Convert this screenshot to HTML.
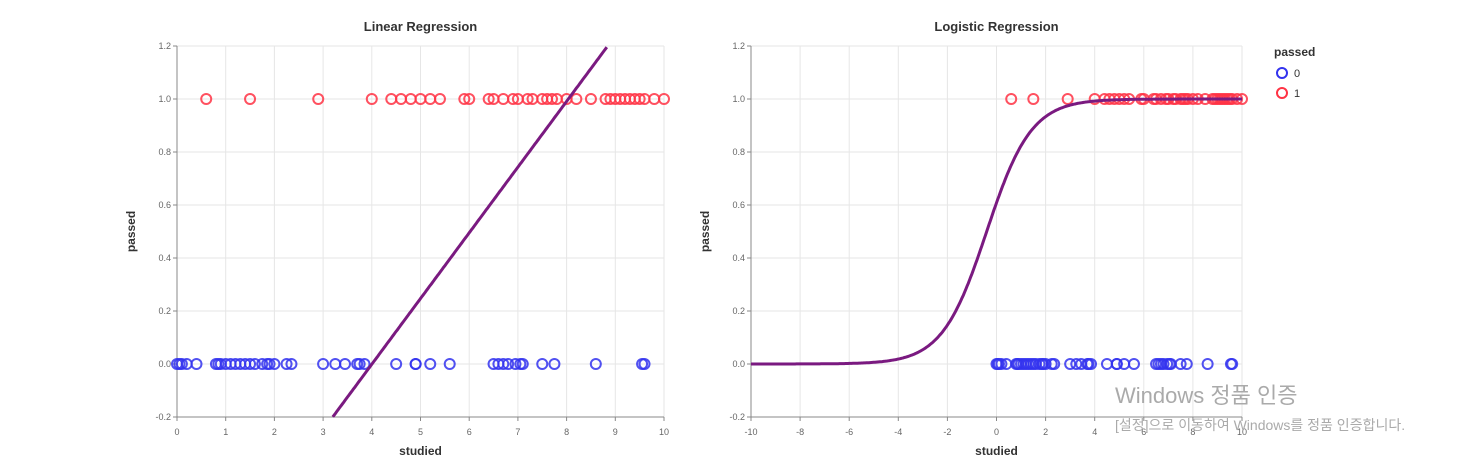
<!DOCTYPE html>
<html><head><meta charset="utf-8"><style>
body{margin:0;background:#fff;}
svg{display:block;font-family:"Liberation Sans","Noto Sans CJK KR",sans-serif;}
</style></head><body>
<svg id="c" width="1482" height="467"></svg>
<script>
const redX=[0.6,1.5,2.9,4.0,4.4,4.6,4.8,5.0,5.2,5.4,5.9,6.0,6.4,6.5,6.7,6.9,7.0,7.2,7.3,7.5,7.6,7.7,7.8,8.0,8.2,8.5,8.8,8.9,9.0,9.1,9.2,9.3,9.4,9.5,9.6,9.8,10.0];
const blueX=[0.0,0.05,0.1,0.2,0.4,0.8,0.85,0.9,1.0,1.1,1.2,1.3,1.4,1.5,1.6,1.75,1.85,1.9,2.0,2.25,2.35,3.0,3.25,3.45,3.7,3.75,3.85,4.5,4.9,4.9,5.2,5.6,6.5,6.6,6.7,6.8,6.95,7.05,7.1,7.5,7.75,8.6,9.55,9.6];
const yTicks=[-0.2,0,0.2,0.4,0.6,0.8,1.0,1.2];
const xTicksL=[0,1,2,3,4,5,6,7,8,9,10];
const xTicksR=[-10,-8,-6,-4,-2,0,2,4,6,8,10];
const linSlope=0.248, linIntercept=-0.993;
const logK=1.1, logX0=-0.4;

const svg=document.getElementById('c');
const NS='http://www.w3.org/2000/svg';
function mk(tag,attrs,parent){const e=document.createElementNS(NS,tag);for(const k in attrs)e.setAttribute(k,attrs[k]);(parent||svg).appendChild(e);return e;}
const Y0=46,Y1=417;
function sy(v){return Y1-(v+0.2)/1.4*(Y1-Y0);}

function panel(name,x0,x1,dmin,dmax,ticks,title,curveFn){
  const g=mk('g',{});
  
  
  const sx=v=>x0+(v-dmin)/(dmax-dmin)*(x1-x0);
  ticks.forEach(t=>{const l=mk('line',{x1:sx(t),x2:sx(t),y1:Y0,y2:Y1,stroke:'#e6e6e6'},g);
    
    const tx=mk('text',{x:sx(t),y:Y1+18,'text-anchor':'middle','font-size':9,fill:'#666'},g);tx.textContent=t;
    
    mk('line',{x1:sx(t),x2:sx(t),y1:Y1,y2:Y1+4,stroke:'#888'},g);});
  yTicks.forEach(t=>{const l=mk('line',{x1:x0,x2:x1,y1:sy(t),y2:sy(t),stroke:'#e6e6e6'},g);
    
    const tx=mk('text',{x:x0-6,y:sy(t)+3,'text-anchor':'end','font-size':9,fill:'#666'},g);tx.textContent=t.toFixed(1);
    
    mk('line',{x1:x0-4,x2:x0,y1:sy(t),y2:sy(t),stroke:'#888'},g);});
  mk('line',{x1:x0,x2:x0,y1:Y0,y2:Y1,stroke:'#888'},g);
  mk('line',{x1:x0,x2:x1,y1:Y1,y2:Y1,stroke:'#888'},g);
  const tt=mk('text',{x:(x0+x1)/2,y:31,'text-anchor':'middle','font-size':13,'font-weight':'bold',fill:'#333'},g);tt.textContent=title;
  
  const xl=mk('text',{x:(x0+x1)/2,y:455,'text-anchor':'middle','font-size':12,'font-weight':'bold',fill:'#333'},g);xl.textContent='studied';
  
  const yl=mk('text',{x:0,y:0,'text-anchor':'middle','font-size':12,'font-weight':'bold',fill:'#333',transform:`translate(${x0-42},${(Y0+Y1)/2}) rotate(-90)`},g);yl.textContent='passed';
  
  blueX.forEach(v=>{const c=mk('circle',{cx:sx(v),cy:sy(0),r:5,fill:'none',stroke:'#3333ee','stroke-width':2,opacity:0.85},g);
    });
  redX.forEach(v=>{const c=mk('circle',{cx:sx(v),cy:sy(1),r:5,fill:'none',stroke:'#ff3344','stroke-width':2,opacity:0.85},g);
    });
  let d='';
  for(let i=0;i<=400;i++){const x=dmin+(dmax-dmin)*i/400;let y=curveFn(x);if(y<-0.2||y>1.2)continue;d+=(d?'L':'M')+sx(x).toFixed(1)+','+sy(y).toFixed(1);}
  const p=mk('path',{d:d,fill:'none',stroke:'#7a1a80','stroke-width':3},g);
  
}
panel('linear-regression-chart',177,664,0,10,xTicksL,'Linear Regression',x=>linSlope*x+linIntercept);
panel('logistic-regression-chart',751,1242,-10,10,xTicksR,'Logistic Regression',x=>1/(1+Math.exp(-logK*(x-logX0))));

const lg=mk('g',{});


const lt=mk('text',{x:1274,y:56,'font-size':12,'font-weight':'bold',fill:'#333'},lg);lt.textContent='passed';
[['0','#3333ee',73],['1','#ff3344',93]].forEach(([t,c,y])=>{
  const ci=mk('circle',{cx:1282,cy:y,r:5,fill:'none',stroke:c,'stroke-width':2},lg);
  
  const tx=mk('text',{x:1294,y:y+4,'font-size':11,fill:'#333'},lg);tx.textContent=t;});
const w1=mk('text',{x:1115,y:403,'font-size':22,fill:'#aaa'});w1.textContent='Windows 정품 인증';

const w2=mk('text',{x:1115,y:430,'font-size':14,fill:'#aaa'});w2.textContent='[설정]으로 이동하여 Windows를 정품 인증합니다.';

</script>
</body></html>
